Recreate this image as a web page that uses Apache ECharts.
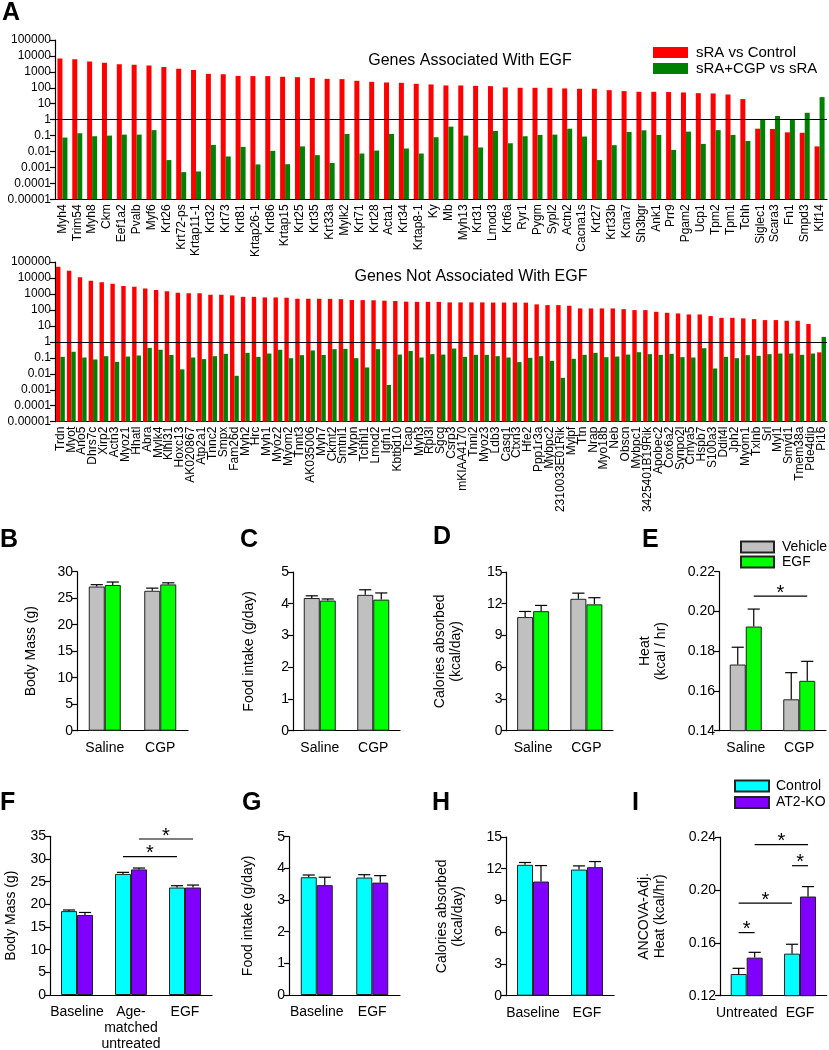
<!DOCTYPE html>
<html><head><meta charset="utf-8">
<script src="https://cdn.jsdelivr.net/npm/echarts@6/dist/echarts.min.js"></script>
<style>html,body{margin:0;padding:0;background:#fff}#c{width:829px;height:1050px}</style>
</head><body><div id="c"></div>
<script>
// ---------------- DATA ----------------
const foldTickLabels = ['0.00001','0.0001','0.001','0.01','0.1','1','10','100','1000','10000','100000'];

const aCatsTop = ['Myh4','Trim54','Myh8','Ckm','Eef1a2','Pvalb','Myf6','Krt26','Krt72-ps','Krtap11-1','Krt32','Krt73','Krt81','Krtap26-1','Krt86','Krtap15','Krt25','Krt35','Krt33a','Mylk2','Krt71','Krt28','Acta1','Krt34','Krtap8-1','Ky','Mb','Myh13','Krt31','Lmod3','Krt6a','Ryr1','Pygm','Sypl2','Actn2','Cacna1s','Krt27','Krt33b','Kcna7','Sh3bgr','Ank1','Prr9','Pgam2','Ucp1','Tpm2','Tpm1','Tchh','Siglec1','Scara3','Fn1','Smpd3','Klf14'];
const aRedTop = [6800,6200,4400,3700,3000,2750,2500,2050,1550,1330,750,710,560,540,540,490,465,420,365,350,275,237,215,205,178,162,140,140,133,127,105,100,100,100,91,87,87,71,62,56,56,54,51,46,44,38,19.6,0.27,0.26,0.16,0.15,0.021];
const aGreenTop = [0.075,0.14,0.091,0.1,0.115,0.115,0.22,0.0029,0.00051,0.00056,0.026,0.0049,0.0195,0.00155,0.011,0.0016,0.021,0.0059,0.0019,0.127,0.0075,0.0115,0.127,0.0154,0.0075,0.079,0.365,0.1,0.018,0.196,0.033,0.091,0.11,0.115,0.27,0.087,0.0029,0.025,0.17,0.215,0.11,0.0127,0.178,0.030,0.22,0.11,0.046,1.1,1.7,0.97,2.7,26];

const aCatsBottom = ['Trdn','Myot','Ano5','Dhrs7c','Xirp2','Actn3','Myoz1','Hhatl','Abra','Mylk4','Klhl31','Hoxc13','AK020867','Atp2a1','Tnnc2','Smpx','Fam26d','Myh2','Hrc','Myh1','Myoz2','Myom2','Tnnt3','AK035006','Myh7','Ckmt2','Smtnl1','Mypn','Tchhl1','Lmod2','Igfn1','Kbtbd10','Tcap','Myh3','Rpl3l','Sgcg','Csrp3','mKIAA4170','Tnni2','Myoz3','Ldb3','Casq1','Ctxn3','Hfe2','Ppp1r3a','Mybpc2','2310033E01Rik','Mylpf','Ttn','Nrap','Myo18b','Neb','Obscn','Mybpc1','3425401B19Rik','Apobec2','Cox6a2','Synpo2l','Cmya5','Hspb7','S100a3','Ddit4l','Jph2','Myom1','Txlnb','Srl','Myl1','Smyd1','Tmem38a','Pde4dip','Pi16'];
const aRedBottom = [50000,28000,11000,6700,5300,4350,3100,2800,2230,1750,1500,1180,1090,1090,890,890,810,660,660,605,605,580,500,500,500,490,470,415,410,400,380,360,330,320,320,320,295,295,295,295,290,290,290,285,222,200,200,182,124,124,124,124,112,97,97,76,66,60,52,52,41,32,32,29.5,26.5,23,23,21,21,13,0.22];
const aGreenBottom = [0.115,0.24,0.105,0.079,0.127,0.056,0.12,0.14,0.42,0.32,0.15,0.019,0.105,0.083,0.127,0.178,0.0075,0.205,0.115,0.186,0.32,0.095,0.147,0.29,0.15,0.35,0.365,0.095,0.025,0.35,0.002,0.16,0.27,0.105,0.17,0.16,0.38,0.115,0.154,0.154,0.127,0.105,0.054,0.1,0.127,0.065,0.0056,0.087,0.154,0.205,0.11,0.12,0.16,0.225,0.17,0.154,0.178,0.11,0.105,0.4,0.0215,0.115,0.095,0.147,0.134,0.17,0.186,0.186,0.154,0.186,2.05];

const cgpCats = ['Saline','CGP'];
const bVehicle = [27.2, 26.4], bVehicleSem = [0.35, 0.5], bEgf = [27.5, 27.6], bEgfSem = [0.55, 0.3];
const cVehicle = [4.18, 4.28], cVehicleSem = [0.07, 0.16], cEgf = [4.10, 4.13], cEgfSem = [0.05, 0.21];
const dVehicle = [10.74, 12.47], dVehicleSem = [0.53, 0.53], dEgf = [11.3, 11.94], dEgfSem = [0.54, 0.63];
const eVehicle = [0.1733, 0.1558], eVehicleSem = [0.0087, 0.0134], eEgf = [0.1924, 0.1651], eEgfSem = [0.0088, 0.0098];
const eSig = [[0, 1, 1, 1, 0.2077]];

const fCats = ['Baseline', 'Age-\nmatched\nuntreated', 'EGF'];
const fControl = [18.5, 26.7, 23.7], fControlSem = [0.25, 0.35, 0.4], fKo = [17.65, 27.7, 23.7], fKoSem = [0.55, 0.3, 0.55];
const fSig = [[1, -1, 2, -1, 30.5], [1, 1, 2, 1, 34.4]];
const gCats = ['Baseline', 'EGF'];
const gControl = [3.72, 3.71], gControlSem = [0.07, 0.09], gKo = [3.47, 3.55], gKoSem = [0.25, 0.22];
const hControl = [12.37, 11.92], hControlSem = [0.22, 0.35], hKo = [10.79, 12.15], hKoSem = [1.51, 0.53];
const iCats = ['Untreated', 'EGF'];
const iControl = [0.1364, 0.1518], iControlSem = [0.0043, 0.0071], iKo = [0.1488, 0.195], iKoSem = [0.004, 0.0075];
const iSig = [[0, -1, 0, 1, 0.1677], [0, -1, 1, -1, 0.19], [1, -1, 1, 1, 0.2183], [0, 1, 1, 1, 0.2342]];

// ---------------- BUILD ----------------
const FONT = 'Liberation Sans, Arial, Helvetica, sans-serif';
const grids = [], xAxes = [], yAxes = [], series = [];

function logPanel(o) {
  const gi = grids.length;
  grids.push({left: 55, top: o.top, width: 772, height: o.height, outerBoundsMode: 'none', containLabel: false});
  xAxes.push({type: 'category', gridIndex: gi, data: o.cats,
    axisLine: {show: true, onZero: false, lineStyle: {color: '#000', width: 1.2}},
    axisTick: {show: false},
    axisLabel: {rotate: 90, interval: 0, fontSize: 12, fontFamily: FONT, color: '#000', margin: 5},
    splitLine: {show: false}});
  yAxes.push({type: 'log', logBase: 10, gridIndex: gi, min: 1e-5, max: 1e5, startValue: 1e-5, splitNumber: 10, interval: 1,
    axisLine: {show: true, lineStyle: {color: '#000', width: 1.2}},
    axisTick: {show: true, length: 5, lineStyle: {color: '#000', width: 1.2}},
    minorTick: {show: false},
    axisLabel: {fontSize: 12, fontFamily: FONT, color: '#000', margin: 4,
      formatter: v => { const k = Math.round(Math.log10(v)) + 5; return foldTickLabels[k] || ''; }},
    splitLine: {show: false},
    name: 'Fold Difference', nameLocation: 'middle', nameGap: 42,
    nameTextStyle: {fontSize: 12, fontFamily: FONT, color: '#000'}});
  series.push({type: 'bar', name: 'sRA vs Control', xAxisIndex: gi, yAxisIndex: gi, data: o.red,
    barWidth: o.bw, barGap: '0%', itemStyle: {color: '#ff0000'}});
  series.push({type: 'bar', name: 'sRA+CGP vs sRA', xAxisIndex: gi, yAxisIndex: gi, data: o.green,
    barWidth: o.bw, barGap: '0%', itemStyle: {color: '#008000'},
    markLine: {silent: true, symbol: 'none', label: {show: false}, animation: false,
      lineStyle: {color: '#000', width: 1.2, type: 'solid'}, data: [{yAxis: 1}]}});
}

function errRender(bw) {
  return function (params, api) {
    const base = api.coord([api.value(0), api.value(2)]);
    const top = api.coord([api.value(0), api.value(3)]);
    const x = base[0] + api.value(1) * bw / 2;
    const cap = bw * 0.38;
    const st = {stroke: '#000', lineWidth: 1.2};
    return {type: 'group', children: [
      {type: 'line', shape: {x1: x, y1: base[1], x2: x, y2: top[1]}, style: st},
      {type: 'line', shape: {x1: x - cap, y1: top[1], x2: x + cap, y2: top[1]}, style: st}
    ]};
  };
}
function sigRender(bw) {
  return function (params, api) {
    const y = api.value(4);
    const p1 = api.coord([api.value(0), y]);
    const p2 = api.coord([api.value(2), y]);
    const x1 = p1[0] + api.value(1) * bw / 2, x2 = p2[0] + api.value(3) * bw / 2;
    return {type: 'group', children: [
      {type: 'line', shape: {x1: x1, y1: p1[1], x2: x2, y2: p1[1]}, style: {stroke: '#000', lineWidth: 1.2}},
      {type: 'text', x: (x1 + x2) / 2, y: p1[1] - 3,
        style: {text: '*', fontSize: 20, fontFamily: FONT, fill: '#000', align: 'center', verticalAlign: 'middle',
          textAlign: 'center', textVerticalAlign: 'middle'}}
    ]};
  };
}

function barPanel(o) {
  const gi = grids.length;
  grids.push({left: o.left, top: o.top, width: o.width, height: o.height, outerBoundsMode: 'none', containLabel: false});
  xAxes.push({type: 'category', gridIndex: gi, data: o.cats,
    axisLine: {show: true, onZero: false, lineStyle: {color: '#000', width: 1.2}},
    axisTick: {show: false},
    axisLabel: {color: '#000', fontSize: 14, fontFamily: FONT, margin: 9, interval: 0, lineHeight: 16},
    splitLine: {show: false}});
  yAxes.push({type: 'value', gridIndex: gi, min: o.min, max: o.max, interval: o.interval,
    axisLine: {show: true, lineStyle: {color: '#000', width: 1.2}},
    axisTick: {show: true, length: 5, lineStyle: {color: '#000', width: 1.2}},
    axisLabel: {color: '#000', fontSize: 14, fontFamily: FONT, margin: 4, formatter: o.fmt},
    splitLine: {show: false},
    name: o.name, nameLocation: 'middle', nameGap: o.nameGap,
    nameTextStyle: {color: '#000', fontSize: 14, fontFamily: FONT, lineHeight: 16}});
  const bw = o.bw;
  series.push({type: 'bar', name: o.names[0], xAxisIndex: gi, yAxisIndex: gi, data: o.a, barWidth: bw, barGap: '0%',
    itemStyle: {color: o.colors[0], borderColor: '#222', borderWidth: 1}});
  series.push({type: 'bar', name: o.names[1], xAxisIndex: gi, yAxisIndex: gi, data: o.b, barWidth: bw, barGap: '0%',
    itemStyle: {color: o.colors[1], borderColor: '#222', borderWidth: 1}});
  const err = [];
  o.a.forEach((v, i) => err.push([i, -1, v, v + o.aErr[i]]));
  o.b.forEach((v, i) => err.push([i, 1, v, v + o.bErr[i]]));
  series.push({type: 'custom', xAxisIndex: gi, yAxisIndex: gi, data: err, renderItem: errRender(bw),
    encode: {x: 0, y: [2, 3]}, silent: true, z: 3});
  if (o.sig) series.push({type: 'custom', xAxisIndex: gi, yAxisIndex: gi, data: o.sig, renderItem: sigRender(bw),
    encode: {x: [0, 2], y: 4}, silent: true, z: 3, clip: false});
}

logPanel({top: 40, height: 159.3, cats: aCatsTop, red: aRedTop, green: aGreenTop, bw: 5});
logPanel({top: 262, height: 159.7, cats: aCatsBottom, red: aRedBottom, green: aGreenBottom, bw: 4.4});

const VE = ['Vehicle', 'EGF'], VEc = ['#c0c0c0', '#00ff00'];
const CK = ['Control', 'AT2-KO'], CKc = ['#00ffff', '#8000ff'];
const f2 = v => v.toFixed(2);

barPanel({left: 77, top: 571.7, width: 111, height: 159, cats: cgpCats, min: 0, max: 30, interval: 5,
  a: bVehicle, aErr: bVehicleSem, b: bEgf, bErr: bEgfSem, names: VE, colors: VEc, bw: 16,
  name: 'Body Mass (g)', nameGap: 38});
barPanel({left: 293, top: 572, width: 107, height: 158.7, cats: cgpCats, min: 0, max: 5, interval: 1,
  a: cVehicle, aErr: cVehicleSem, b: cEgf, bErr: cEgfSem, names: VE, colors: VEc, bw: 16,
  name: 'Food intake (g/day)', nameGap: 36});
barPanel({left: 506.5, top: 572, width: 106.5, height: 158.7, cats: cgpCats, min: 0, max: 15, interval: 3,
  a: dVehicle, aErr: dVehicleSem, b: dEgf, bErr: dEgfSem, names: VE, colors: VEc, bw: 16,
  name: 'Calories absorbed\n(kcal/day)', nameGap: 42});
barPanel({left: 719, top: 571.7, width: 107, height: 159, cats: cgpCats, min: 0.14, max: 0.22, interval: 0.02, fmt: f2,
  a: eVehicle, aErr: eVehicleSem, b: eEgf, bErr: eEgfSem, names: VE, colors: VEc, bw: 16, sig: eSig,
  name: 'Heat\n(kcal / hr)', nameGap: 50});

barPanel({left: 50, top: 836.3, width: 162, height: 158.7, cats: fCats, min: 0, max: 35, interval: 5,
  a: fControl, aErr: fControlSem, b: fKo, bErr: fKoSem, names: CK, colors: CKc, bw: 16, sig: fSig,
  name: 'Body Mass (g)', nameGap: 31});
barPanel({left: 289, top: 836.7, width: 111, height: 158.3, cats: gCats, min: 0, max: 5, interval: 1,
  a: gControl, aErr: gControlSem, b: gKo, bErr: gKoSem, names: CK, colors: CKc, bw: 16,
  name: 'Food intake (g/day)', nameGap: 33});
barPanel({left: 506, top: 837, width: 108, height: 158.7, cats: gCats, min: 0, max: 15, interval: 3,
  a: hControl, aErr: hControlSem, b: hKo, bErr: hKoSem, names: CK, colors: CKc, bw: 16,
  name: 'Calories absorbed\n(kcal/day)', nameGap: 40});
barPanel({left: 720, top: 837, width: 106.7, height: 158.7, cats: iCats, min: 0.12, max: 0.24, interval: 0.04, fmt: f2,
  a: iControl, aErr: iControlSem, b: iKo, bErr: iKoSem, names: CK, colors: CKc, bw: 16, sig: iSig,
  name: 'ANCOVA-Adj.\nHeat (kcal/hr)', nameGap: 52});

function txt(t, x, y, size, bold, align) {
  return {type: 'text', x: x, y: y, silent: true,
    style: {text: t, fontSize: size, fontWeight: bold ? 'bold' : 'normal', fontFamily: FONT, fill: '#000',
      align: align || 'left', verticalAlign: 'top', textAlign: align || 'left', textVerticalAlign: 'top'}};
}
const graphics = [
  txt('A', 2, 1, 25, true), txt('B', 0, 528, 25, true), txt('C', 240, 528, 25, true), txt('D', 433, 525, 25, true),
  txt('E', 642, 528, 25, true), txt('F', 0, 791, 25, true), txt('G', 242, 791, 25, true), txt('H', 432, 791, 25, true),
  txt('I', 632, 791, 25, true),
  txt('Genes Associated With EGF', 470, 53, 16, false, 'center'),
  txt('Genes Not Associated With EGF', 471, 269, 16, false, 'center')
];

const chart = echarts.init(document.getElementById('c'), null, {renderer: 'canvas'});
chart.setOption({
  animation: false,
  backgroundColor: '#fff',
  textStyle: {fontFamily: FONT},
  grid: grids, xAxis: xAxes, yAxis: yAxes, series: series, graphic: graphics,
  legend: [
    {data: ['sRA vs Control', 'sRA+CGP vs sRA'], left: 653, top: 45, itemWidth: 35, itemHeight: 11, itemGap: 1,
      orient: 'vertical', icon: 'rect', selectedMode: false, padding: 0,
      textStyle: {fontSize: 15, lineHeight: 14, fontFamily: FONT, color: '#000', padding: [0, 0, 0, 3]}},
    {data: ['Vehicle', 'EGF'], left: 740, top: 540, itemWidth: 33, itemHeight: 11, itemGap: 1,
      orient: 'vertical', icon: 'rect', selectedMode: false, padding: 0,
      textStyle: {fontSize: 14, lineHeight: 12, fontFamily: FONT, color: '#000', padding: [0, 0, 0, 3]}},
    {data: ['Control', 'AT2-KO'], left: 734, top: 779, itemWidth: 34, itemHeight: 11, itemGap: 2.5,
      orient: 'vertical', icon: 'rect', selectedMode: false, padding: 0,
      textStyle: {fontSize: 14, lineHeight: 12, fontFamily: FONT, color: '#000', padding: [0, 0, 0, 2]}}
  ]
});
</script></body></html>
